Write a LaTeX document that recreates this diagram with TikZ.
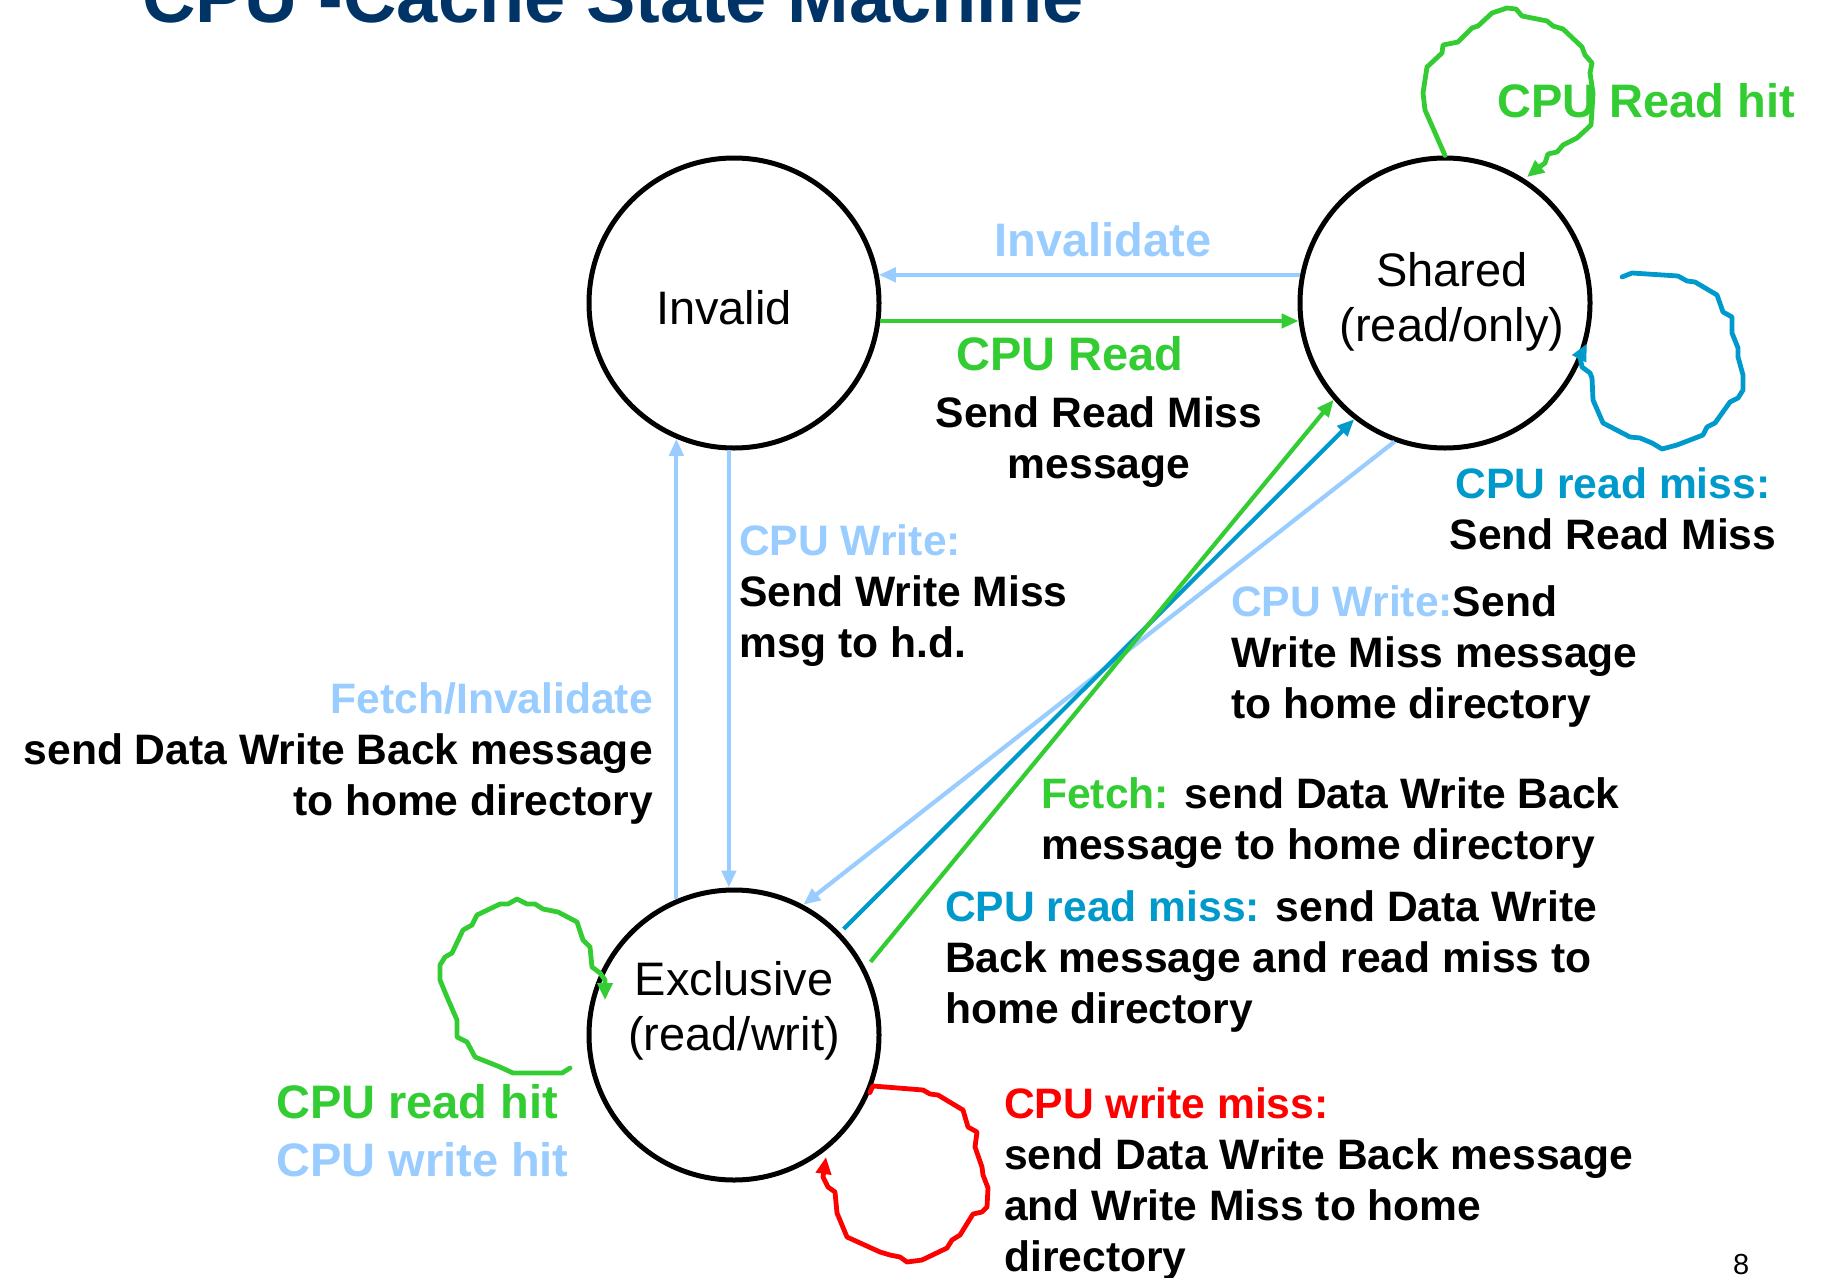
\documentclass[tikz,border=0pt]{standalone}
\usepackage{fontspec}
\setmainfont{Liberation Sans}
\usetikzlibrary{arrows.meta}
\definecolor{cpugreen}{HTML}{33CC33}
\definecolor{lightblue}{HTML}{99CCFF}
\definecolor{missblue}{HTML}{0099CC}
\definecolor{titlenavy}{HTML}{003366}
\begin{document}
\begin{tikzpicture}[x=1pt,y=-1pt,
  cstate/.style={circle, draw=black, line width=5pt, minimum size=290pt, inner sep=0pt},
  stxt/.style={font=\fontsize{47}{55}\selectfont, align=center, inner sep=0pt, anchor=base},
  big/.style={font=\fontsize{47}{58}\selectfont\bfseries, inner sep=0pt},
  lbl/.style={font=\fontsize{42.6}{51}\selectfont\bfseries, inner sep=0pt},
  conn/.style={line width=4.2pt, -{Triangle[length=17pt,width=14pt]}},
  loopline/.style={line width=4.8pt, line join=round, line cap=round, -{Triangle[length=17pt,width=15pt]}}]
\useasboundingbox (0,0) rectangle (1823,1277);

% title (multi-line nodes below are placed by the baseline of their last line)
\node[font=\fontsize{74}{80}\selectfont\bfseries, text=titlenavy, inner sep=0pt, anchor=base west]
  (title) at (142,22) {CPU -Cache State Machine};

% the three states
\node[cstate] (inv) at (734,303) {};
\node[cstate] (sh)  at (1445,303) {};
\node[cstate] (ex)  at (734,1035) {};
\node[stxt] (invtxt) at (724,324) {Invalid};
\node[stxt] (shtxt)  at (1452,341) {Shared\\(read/only)};
\node[stxt] (extxt)  at (734,1050) {Exclusive\\(read/writ)};

% transitions between states
\draw[conn, lightblue] (sh.169) -- (inv.11);
\draw[conn, cpugreen]  (inv.-7) -- (sh.187);
\draw[conn, lightblue] (ex.113) -- (inv.-113);
\draw[conn, lightblue] (inv.-92) -- (ex.92);
\draw[conn, lightblue] (sh.-110) -- (ex.62);
\draw[conn, missblue, shorten <=5pt] (ex.44) -- (sh.-128);
\draw[conn, cpugreen, shorten <=8pt] (ex.27) -- (sh.-139);

% self loops
\draw[loopline, cpugreen] (sh.90) -- (1425,110) -- (1423,93) -- (1427,67) -- (1442,53) -- (1443,45)
  -- (1458,42) -- (1472,28) -- (1478,26) -- (1492,13) -- (1507,8) -- (1516,9) -- (1522,16)
  -- (1547,21) -- (1553,26) -- (1563,29) -- (1582,47) -- (1585,55) -- (1592,63) -- (1590,73)
  -- (1593,93) -- (1592,110) -- (1591,125) -- (1577,138) -- (1563,145) -- (1557,152)
  -- (1548,154) -- (1545,163) -- (1538,168) -- (1527,177);
\draw[loopline, missblue] (1622,277) -- (1632,273) -- (1678,276) -- (1687,281) -- (1695,282)
  -- (1717,295) -- (1723,312) -- (1732,317) -- (1732,333) -- (1738,348) -- (1738,357)
  -- (1743,375) -- (1743,390) -- (1738,398) -- (1730,402) -- (1715,423) -- (1707,427)
  -- (1703,435) -- (1677,445) -- (1662,449) -- (1652,443) -- (1640,438) -- (1630,437)
  -- (1603,423) -- (1593,400) -- (1592,378) -- (1590,373) -- (1582,367) -- (1580,357) -- (sh.-16);
\draw[loopline, cpugreen] (570,1068) -- (562,1073) -- (513,1073) -- (500,1067) -- (475,1057)
  -- (467,1042) -- (457,1037) -- (457,1020) -- (447,997) -- (440,980) -- (440,965) -- (445,957)
  -- (452,953) -- (463,930) -- (472,925) -- (477,915) -- (500,904) -- (508,904) -- (517,899)
  -- (527,904) -- (535,904) -- (543,909) -- (558,912) -- (577,922) -- (583,940) -- (590,947)
  -- (592,967) -- (600,973) -- (605,980) -- (605,1000);
\draw[loopline, red] (ex.-23) -- (873,1086) -- (923,1090) -- (930,1094) -- (938,1095)
  -- (963,1110) -- (968,1127) -- (977,1132) -- (975,1147) -- (982,1167) -- (983,1175)
  -- (988,1188) -- (987,1207) -- (982,1212) -- (973,1214) -- (960,1235) -- (952,1240)
  -- (947,1248) -- (922,1260) -- (907,1262) -- (900,1257) -- (890,1255) -- (880,1252)
  -- (847,1237) -- (837,1213) -- (835,1192) -- (828,1187) -- (823,1177) -- (826,1157);

% transition labels
\node[big, text=lightblue, anchor=base] (lInv) at (1103,256) {Invalidate};
\node[big, text=cpugreen, anchor=base] (lRead) at (1070,370) {CPU Read};
\node[lbl, align=center, anchor=base] (lReadMsg) at (1099,478) {Send Read Miss\\message};
\node[big, text=cpugreen, anchor=base west] (lShHit) at (1497,117) {CPU Read hit};
\node[lbl, align=center, anchor=base] (lShMiss) at (1613,549)
  {\textcolor{missblue}{CPU read miss:}\\Send Read Miss};
\node[lbl, align=left, anchor=base west] (lInvW) at (739,657)
  {\textcolor{lightblue}{CPU Write:}\\Send Write Miss\\msg to h.d.};
\node[lbl, align=left, anchor=base west] (lShW) at (1231,718)
  {\textcolor{lightblue}{CPU Write:}Send\\Write Miss message\\to home directory};
\node[lbl, align=right, anchor=base east] (lFI) at (653,815)
  {\textcolor{lightblue}{Fetch/Invalidate}\\send Data Write Back message\hspace*{11pt}\\to home directory};
\node[lbl, align=left, anchor=base west] (lFetch) at (1041,859)
  {\textcolor{cpugreen}{Fetch:} send Data Write Back\\message to home directory};
\node[lbl, align=left, anchor=base west] (lExMiss) at (945,1023)
  {\textcolor{missblue}{CPU read miss:} send Data Write\\Back message and read miss to\\home directory};
\node[lbl, align=left, anchor=base west] (lWMiss) at (1004,1271)
  {\textcolor{red}{CPU write miss:}\\send Data Write Back message\\and Write Miss to home\\directory};
\node[big, align=left, anchor=base west] (lExHit) at (276,1176)
  {\textcolor{cpugreen}{CPU read hit}\\\textcolor{lightblue}{CPU write hit}};

% page number
\node[font=\fontsize{29}{32}\selectfont, inner sep=0pt, anchor=base west] (pg) at (1733,1274) {8};
\end{tikzpicture}
\end{document}
